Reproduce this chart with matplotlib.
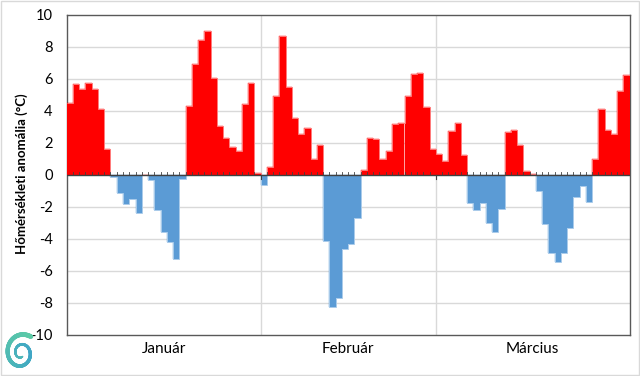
import matplotlib
matplotlib.use("Agg")
import matplotlib.pyplot as plt
import numpy as np
from matplotlib.patches import Rectangle
from matplotlib.colors import LinearSegmentedColormap

months = ["Január", "Február", "Március"]
month_days = [31, 28, 31]

jan = [4.46, 5.65, 5.38, 5.75, 5.33, 4.1, 1.6, -0.12, -1.17, -1.85, -1.5, -2.42,
       0.0, -0.31, -2.19, -3.6, -4.2, -5.3, -0.3, 4.27, 6.9, 8.42, 9.0, 6.06,
       3.04, 2.27, 1.71, 1.48, 4.42, 5.75, 0.1]
feb = [-0.63, 0.48, 4.92, 8.69, 5.46, 3.54, 2.54, 2.94, 0.96, 1.88, -4.13, -8.29,
       -7.73, -4.67, -4.35, -2.71, 0.27, 2.31, 2.21, 0.96, 1.46, 3.17, 3.25, 4.92,
       6.27, 6.35, 4.25, 1.6]
mar = [1.29, 0.83, 2.71, 3.23, 1.25, -1.79, -2.19, -1.79, -3.0, -3.6, -2.15, 2.67,
       2.81, 1.88, 0.23, 0.04, -1.04, -3.1, -4.9, -5.44, -4.88, -3.33, -1.42, -0.69,
       -1.69, 0.96, 4.13, 2.81, 2.56, 5.25, 6.25]

values = np.array(jan + feb + mar)
ytick_vals = list(range(-10, 11, 2))
ylabel = "Hőmérsékleti anomália (°C)"

RED = "#FF0000"
BLUE = "#5B9BD5"

fig = plt.figure(figsize=(6.4, 3.76), dpi=100)
ax = fig.add_axes([66.7 / 640, 1 - 334.7 / 376, (629.7 - 66.7) / 640, (334.7 - 14.7) / 376])

n = len(values)
x = np.arange(n) + 0.5
colors = [RED if v >= 0 else BLUE for v in values]
ax.bar(x, values, width=1.0, color=colors, edgecolor=colors, linewidth=0.3, zorder=3)

# light outline along the tops of the bars
pos = np.where(values >= 0, values, 0)
neg = np.where(values < 0, values, 0)
edges_x = np.arange(n + 1)
ax.stairs(pos, edges_x, color="#FF7A7A", linewidth=0.7, zorder=3.5, baseline=None)
ax.stairs(neg, edges_x, color="#A9CBEA", linewidth=0.7, zorder=3.5, baseline=None)

ax.set_xlim(0, n)
ax.set_ylim(-10, 10)
ax.set_yticks(ytick_vals)
ax.set_yticklabels([str(v) for v in ytick_vals], fontsize=10.5, family="Lato", color="#000000")
ax.tick_params(axis="y", length=0, pad=10)

# gridlines
for v in ytick_vals[1:-1]:
    if v != 0:
        ax.axhline(v, color="#D9D9D9", linewidth=1.0, zorder=1)
bounds = np.cumsum(month_days)[:-1]
for b in bounds:
    ax.axvline(b, color="#D9D9D9", linewidth=1.0, zorder=1)

# zero axis with day ticks
ax.axhline(0, color="#404040", linewidth=1.0, zorder=4)
for d in range(1, n):
    if d in bounds:
        ax.plot([d, d], [-0.25, 0.0], color="#404040", linewidth=0.8, zorder=4)
    else:
        ax.plot([d, d], [0.0, 0.15], color="#404040", linewidth=0.6, zorder=4)

ax.set_xticks([])
starts = np.concatenate([[0], np.cumsum(month_days)[:-1]])
for m, s, dcount in zip(months, starts, month_days):
    ax.text(s + dcount / 2, -10.9, m, ha="center", va="center", fontsize=11,
            family="Lato", transform=ax.transData, clip_on=False)

for sp in ax.spines.values():
    sp.set_color("#595959")
    sp.set_linewidth(1.0)

fig.text(22 / 640, 1 - 174 / 376, ylabel, rotation=90, ha="center", va="center",
         fontsize=9.5, fontweight="bold", family="Lato")

# figure border
fig.patches.append(Rectangle((0.002, 0.002), 0.996, 0.995, transform=fig.transFigure,
                             fill=False, edgecolor="#D9D9D9", linewidth=1.0))

# small spiral logo
lax = fig.add_axes([2 / 640, 1 - 375 / 376, 38 / 640, 44 / 376])
lax.set_axis_off()
t = np.linspace(np.deg2rad(55), np.deg2rad(55 + 600), 300)
frac = (t - t[0]) / (t[-1] - t[0])
r = 1.0 - 0.8 * frac ** 0.8
cmap = LinearSegmentedColormap.from_list("logo", ["#5DCBA6", "#3FA6C6", "#4FB8B8"])
for i in range(len(t) - 1):
    lax.plot(np.cos(t[i:i + 2]) * r[i:i + 2], np.sin(t[i:i + 2]) * r[i:i + 2],
             color=cmap(frac[i]), linewidth=3.4 - 2.2 * frac[i], solid_capstyle="round")
lax.set_xlim(-1.1, 1.1)
lax.set_ylim(-1.1, 1.1)

fig.savefig("out.png", dpi=100)
